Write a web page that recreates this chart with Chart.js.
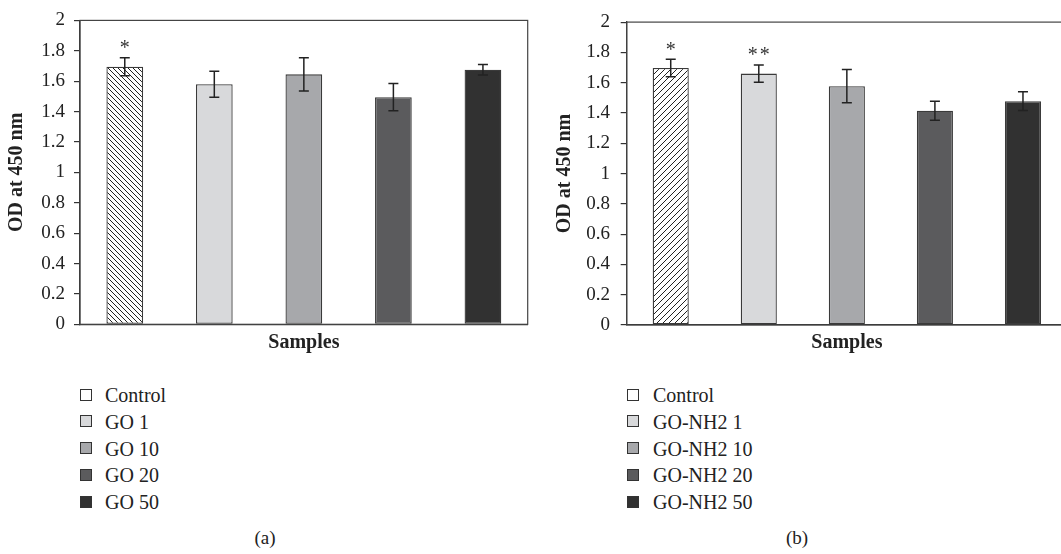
<!DOCTYPE html>
<html>
<head>
<meta charset="utf-8">
<script src="https://cdn.jsdelivr.net/npm/chart.js@4.4.1/dist/chart.umd.min.js"></script>
<style>
body { margin:0; width:1061px; height:554px; overflow:hidden; background:#fff; font-family:"Liberation Serif", serif; position:relative; }
canvas.panel { position:absolute; top:0; }
.row { position:absolute; font-size:20px; line-height:24px; color:#222; white-space:nowrap; }
.sw { position:absolute; width:10px; height:10px; border:1.3px solid #333; }
.cap { position:absolute; font-size:19px; line-height:24px; color:#222; transform:translateX(-50%); }
</style>
</head>
<body>
<canvas id="chartA" class="panel" width="530" height="360" style="left:0"></canvas>
<canvas id="chartB" class="panel" width="540" height="360" style="left:530px"></canvas>
<div id="legends"></div>
<div class="cap" style="left:265px; top:526px">(a)</div>
<div class="cap" style="left:797px; top:526px">(b)</div>
<script>
// tick labels and shared fills
const yTickLabels = ['0', '0.2', '0.4', '0.6', '0.8', '1', '1.2', '1.4', '1.6', '1.8', '2'];
const fills = ['hatch', '#d8d9db', '#a7a8ab', '#5b5b5d', '#313131'];

// panel (a)
const labelsA = ['Control', 'GO 1', 'GO 10', 'GO 20', 'GO 50'];
const valuesA = [1.695, 1.58, 1.645, 1.495, 1.675];
const errorsA = [0.06, 0.085, 0.11, 0.09, 0.035];
const starsA = ['*', '', '', '', ''];

// panel (b)
const labelsB = ['Control', 'GO-NH2 1', 'GO-NH2 10', 'GO-NH2 20', 'GO-NH2 50'];
const valuesB = [1.697, 1.66, 1.577, 1.415, 1.478];
const errorsB = [0.058, 0.057, 0.11, 0.063, 0.062];
const starsB = ['*', '**', '', '', ''];

Chart.defaults.font.family = '"Liberation Serif", serif';

function hatch(size, dir) {
  const c = document.createElement('canvas');
  c.width = c.height = size;
  const g = c.getContext('2d');
  g.fillStyle = '#fff';
  g.fillRect(0, 0, size, size);
  g.strokeStyle = '#222';
  g.lineWidth = 1;
  g.beginPath();
  if (dir === '/') {
    g.moveTo(-1, size + 1); g.lineTo(size + 1, -1);
    g.moveTo(-1, 1); g.lineTo(1, -1);
    g.moveTo(size - 1, size + 1); g.lineTo(size + 1, size - 1);
  } else {
    g.moveTo(-1, -1); g.lineTo(size + 1, size + 1);
    g.moveTo(size - 1, -1); g.lineTo(size + 1, 1);
    g.moveTo(-1, size - 1); g.lineTo(1, size + 1);
  }
  g.stroke();
  return g.createPattern(c, 'repeat');
}

// error bars, significance stars and the box round the plot
const errBars = {
  id: 'errbars',
  afterDatasetsDraw(chart, args, opts) {
    const ctx = chart.ctx, y = chart.scales.y, meta = chart.getDatasetMeta(0);
    const vals = chart.data.datasets[0].data;
    ctx.save();
    meta.data.forEach((bar, i) => {
      const x = bar.x;
      const hi = y.getPixelForValue(vals[i] + opts.errors[i]);
      const lo = y.getPixelForValue(vals[i] - opts.errors[i]);
      ctx.strokeStyle = '#222';
      ctx.lineWidth = 1.5;
      ctx.beginPath();
      ctx.moveTo(x, hi); ctx.lineTo(x, lo);
      ctx.moveTo(x - 5, hi); ctx.lineTo(x + 5, hi);
      ctx.moveTo(x - 5, lo); ctx.lineTo(x + 5, lo);
      ctx.stroke();
      if (opts.stars[i]) {
        ctx.fillStyle = '#333';
        ctx.font = '20px "Liberation Serif"';
        ctx.textAlign = 'center';
        ctx.textBaseline = 'alphabetic';
        const s = opts.stars[i].split('');
        s.forEach((ch, k) => ctx.fillText(ch, x + (k - (s.length - 1) / 2) * 12, hi - 3.5));
      }
    });
    const a = chart.chartArea;
    ctx.strokeStyle = '#444';
    ctx.lineWidth = 1.2;
    ctx.strokeRect(a.left, a.top, a.right - a.left, a.bottom - a.top);
    ctx.restore();
  }
};

function makeChart(id, labels, values, errors, stars, hatchDir, hatchSize, geo) {
  const colors = fills.map(f => f === 'hatch' ? hatch(hatchSize, hatchDir) : f);
  return new Chart(document.getElementById(id), {
    type: 'bar',
    data: {
      labels: labels,
      datasets: [{
        data: values,
        backgroundColor: colors,
        borderColor: '#3a3a3a',
        borderWidth: 1.3,
        borderSkipped: false,
        barPercentage: 0.41,
        categoryPercentage: 1
      }]
    },
    options: {
      responsive: false,
      animation: false,
      devicePixelRatio: 1,
      layout: { padding: { top: geo.top, right: geo.right, left: 0, bottom: 0 } },
      plugins: {
        legend: { display: false },
        tooltip: { enabled: false },
        errbars: { errors: errors, stars: stars }
      },
      scales: {
        x: {
          grid: { display: false },
          border: { color: '#333', width: 1.3 },
          ticks: { display: false },
          title: { display: true, text: 'Samples', color: '#222', font: { size: 20, weight: 'bold' }, padding: { top: 0, bottom: 5 } },
          afterFit: s => { s.height = geo.xh; }
        },
        y: {
          min: 0,
          max: 2,
          ticks: { stepSize: 0.2, color: '#222', padding: geo.tp, font: { size: 19 }, callback: (v, i) => yTickLabels[i] },
          grid: { drawOnChartArea: false, tickLength: 6, color: '#333', lineWidth: 1.2 },
          border: { color: '#333', width: 1.3 },
          title: { display: true, text: 'OD at 450 nm', color: '#222', font: { size: 20, weight: 'bold' }, padding: { top: geo.tt, bottom: 0 } },
          afterFit: s => { s.width = geo.yw; }
        }
      }
    },
    plugins: [errBars]
  });
}

makeChart('chartA', labelsA, valuesA, errorsA, starsA, '\\', 5,
  { top: 15.7, right: 2.3, xh: 35.7, yw: 80, tp: 9, tt: 5 });
makeChart('chartB', labelsB, valuesB, errorsB, starsB, '/', 6,
  { top: 16.5, right: 3, xh: 35, yw: 96.7, tp: 10.7, tt: 23 });

// legends below each panel
function legend(labels, swLeft, textLeft) {
  const box = document.getElementById('legends');
  labels.forEach((lab, i) => {
    const cy = 395 + i * 26.75;
    const sw = document.createElement('div');
    sw.className = 'sw';
    sw.style.left = swLeft + 'px';
    sw.style.top = (cy - 6.3) + 'px';
    sw.style.background = fills[i] === 'hatch' ? '#fff' : fills[i];
    box.appendChild(sw);
    const t = document.createElement('div');
    t.className = 'row';
    t.style.left = textLeft + 'px';
    t.style.top = (cy - 12) + 'px';
    t.textContent = lab;
    box.appendChild(t);
  });
}
legend(labelsA, 80, 105);
legend(labelsB, 627, 653);
</script>
</body>
</html>
